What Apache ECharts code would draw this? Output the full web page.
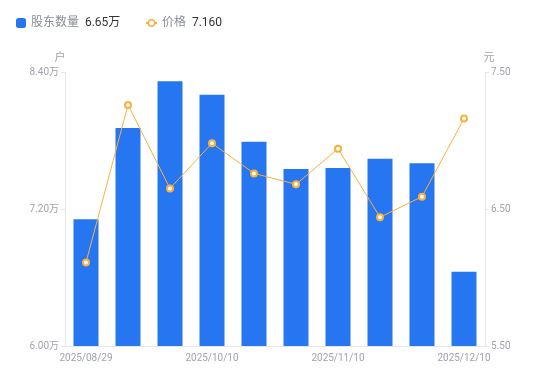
<!DOCTYPE html>
<html><head><meta charset="utf-8">
<script src="https://cdn.jsdelivr.net/npm/echarts@6/dist/echarts.min.js"></script>
<style>html,body{margin:0;padding:0;background:#fff}#c{width:550px;height:381px}</style>
</head><body><div id="c"></div>
<script>
const categories = ['2025/08/29','2025/09/10','2025/09/30','2025/10/10','2025/10/20','2025/10/31','2025/11/10','2025/11/20','2025/11/28','2025/12/10'];
const holders = [7.11, 7.91, 8.32, 8.20, 7.79, 7.55, 7.56, 7.64, 7.60, 6.65];
const prices = [6.11, 7.26, 6.65, 6.98, 6.76, 6.68, 6.94, 6.44, 6.59, 7.16];
const leftTicks = {min: 6.0, max: 8.4, interval: 1.2};
const rightTicks = {min: 5.5, max: 7.5, interval: 1.0};

const font = 'Roboto, "Noto Sans CJK SC", sans-serif';
const rich = {a: {color: '#8a8d99', fontSize: 12, fontFamily: font}, b: {color: '#333', fontSize: 12, fontFamily: font}};
const chart = echarts.init(document.getElementById('c'));
chart.setOption({
  animation: false,
  textStyle: {fontFamily: font},
  legend: [{
    left: 16, top: 17, padding: 0, itemWidth: 10, itemHeight: 10, itemGap: 5,
    data: [{name: '股东数量', icon: 'roundRect'}],
    formatter: n => '{a|' + n + '}  {b|' + holders[holders.length-1].toFixed(2) + '万}',
    textStyle: {rich: rich}
  }, {
    left: 145, top: 17, padding: 0, itemWidth: 11, itemHeight: 8, itemGap: 5,
    data: [{name: '价格', itemStyle: {borderWidth: 1.5}}],
    formatter: n => '{a|' + n + '}  {b|' + prices[prices.length-1].toFixed(3) + '}',
    textStyle: {rich: rich}
  }],
  grid: {left: 65, right: 65, top: 72, bottom: 35},
  xAxis: {
    type: 'category', data: categories,
    axisLine: {lineStyle: {color: '#e6e6e6'}},
    axisTick: {show: false},
    axisLabel: {color: '#a0a3ad', fontSize: 10, interval: 2, margin: 7}
  },
  yAxis: [{
    type: 'value', min: leftTicks.min, max: leftTicks.max, interval: leftTicks.interval,
    name: '户', nameGap: 8, nameTextStyle: {color: '#a0a3ad', fontSize: 11, padding: [0, 0, 0, -10]},
    axisLine: {show: true, lineStyle: {color: '#e6e6e6'}},
    axisTick: {show: true, length: 4, lineStyle: {color: '#e6e6e6'}},
    splitLine: {show: false},
    axisLabel: {color: '#a0a3ad', fontSize: 10, margin: 6, formatter: v => v.toFixed(2) + '万'}
  }, {
    type: 'value', min: rightTicks.min, max: rightTicks.max, interval: rightTicks.interval,
    name: '元', nameGap: 8, nameTextStyle: {color: '#a0a3ad', fontSize: 11, padding: [0, 0, 0, 8]},
    axisLine: {show: true, lineStyle: {color: '#e6e6e6'}},
    axisTick: {show: true, length: 4, lineStyle: {color: '#e6e6e6'}},
    splitLine: {show: false},
    axisLabel: {color: '#a0a3ad', fontSize: 10, margin: 6, formatter: v => v.toFixed(2)}
  }],
  series: [{
    name: '股东数量', type: 'bar', data: holders, barWidth: 25,
    itemStyle: {color: '#2676f2'}
  }, {
    name: '价格', type: 'line', yAxisIndex: 1, data: prices,
    symbol: 'circle', symbolSize: 6, showSymbol: true,
    lineStyle: {color: '#fbb03b', width: 1},
    itemStyle: {color: '#fff', borderColor: '#fbb03b', borderWidth: 2}
  }]
});
</script></body></html>
